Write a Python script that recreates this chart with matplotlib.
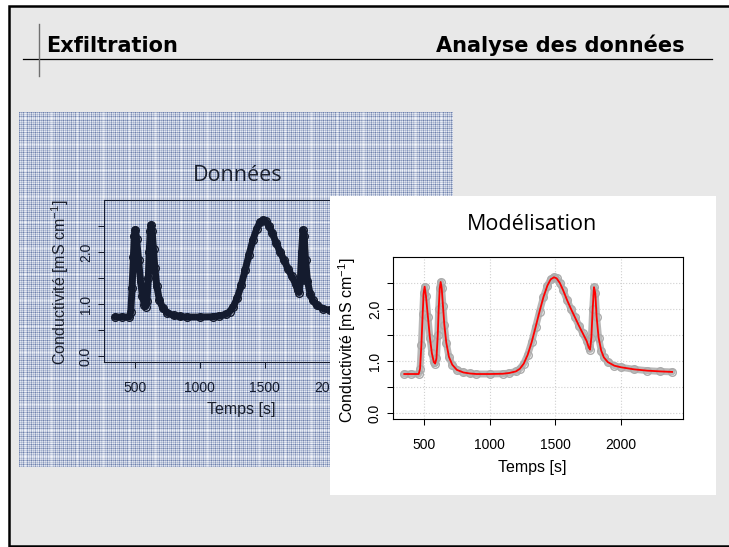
import numpy as np
import matplotlib
matplotlib.use("Agg")
import matplotlib.pyplot as plt
from matplotlib.patches import Rectangle
from matplotlib.lines import Line2D

W, H = 729, 547

# conductivity time series (same curve in both panels)
time_s = [350, 400, 460, 470, 480, 490, 497, 505, 515, 530, 545, 560, 575, 585,
          595, 605, 612, 620, 627, 635, 645, 655, 670, 690, 715, 750, 800, 850,
          900, 1000, 1100, 1150, 1200, 1230, 1260, 1290, 1320, 1350, 1380, 1410,
          1440, 1465, 1490, 1510, 1535, 1560, 1590, 1620, 1650, 1680, 1710, 1740,
          1755, 1765, 1775, 1785, 1795, 1805, 1815, 1830, 1850, 1870, 1900, 1950,
          2000, 2100, 2200, 2300, 2390]
cond_obs = [0.75, 0.75, 0.75, 0.85, 1.30, 1.90, 2.30, 2.43, 2.25, 1.85, 1.45, 1.15,
            0.98, 0.95, 1.05, 1.50, 2.00, 2.40, 2.52, 2.40, 2.05, 1.70, 1.35, 1.08,
            0.93, 0.83, 0.78, 0.76, 0.75, 0.75, 0.755, 0.77, 0.80, 0.85, 0.95, 1.12,
            1.36, 1.65, 1.95, 2.23, 2.45, 2.57, 2.61, 2.59, 2.50, 2.36, 2.17, 2.00,
            1.84, 1.68, 1.53, 1.38, 1.26, 1.22, 1.45, 2.00, 2.42, 2.30, 1.85, 1.45,
            1.20, 1.07, 0.98, 0.91, 0.88, 0.84, 0.815, 0.80, 0.79]
cond_model = cond_obs

xticks = [500, 1000, 1500, 2000]
yticks_major = [0.0, 1.0, 2.0]
yticks_minor = [0.5, 1.5, 2.5]
xlim = (264, 2473)
ylim = (-0.115, 3.0)

ylab = "Conductivité [mS cm$^{\\mathregular{-1}}$]"


def rect(x0, y0, x1, y1):
    return [x0 / W, 1 - y1 / H, (x1 - x0) / W, (y1 - y0) / H]


def fx(x):
    return x / W


def fy(y):
    return 1 - y / H


def style_axes(ax, col):
    ax.set_xlim(*xlim)
    ax.set_ylim(*ylim)
    ax.set_xticks(xticks)
    ax.set_xticklabels([str(v) for v in xticks])
    ax.set_yticks(yticks_major)
    ax.set_yticklabels(["%.1f" % v for v in yticks_major], rotation=90, va="center")
    ax.set_yticks(yticks_minor, minor=True)
    ax.tick_params(axis="both", which="both", length=4.5, width=0.75, colors=col,
                   labelsize=10)
    ax.tick_params(axis="x", pad=9)
    ax.tick_params(axis="y", pad=3.5)
    for lab in ax.get_xticklabels() + ax.get_yticklabels():
        lab.set_family("Liberation Sans")
    for s in ax.spines.values():
        s.set_color(col)
        s.set_linewidth(0.8)


fig = plt.figure(figsize=(W / 100, H / 100), dpi=100)
fig.patch.set_facecolor("white")

# slide background and frame (right edge runs off the picture)
fig.add_artist(Rectangle((fx(8.5), fy(546)), fx(760) - fx(8.5), fy(6) - fy(546),
                         transform=fig.transFigure, facecolor="#e8e8e8",
                         edgecolor="black", lw=1.8, zorder=-5, clip_on=False))

fig.text(fx(46), fy(52), "Exfiltration", family="DejaVu Sans", fontweight="bold",
         fontsize=15, va="baseline", ha="left")
fig.text(fx(685), fy(52), "Analyse des données", family="DejaVu Sans",
         fontweight="bold", fontsize=15, va="baseline", ha="right")
fig.add_artist(Line2D([fx(23), fx(712)], [fy(59), fy(59)], transform=fig.transFigure,
                      color="black", lw=0.9))
fig.add_artist(Line2D([fx(39), fx(39)], [fy(24), fy(76)], transform=fig.transFigure,
                      color="#707070", lw=1.0))

# blue plaid texture behind the first plot (decoration only)
bx0, by0, bx1, by1 = 19, 112, 453, 467
hatch_ax = fig.add_axes(rect(bx0, by0, bx1, by1), zorder=0)
hatch_ax.set_axis_off()
nx, ny = bx1 - bx0, by1 - by0
base = np.array([0.8, 0.1, 0.45, 0.15])
cols = base[np.arange(nx) % 4]
cols[np.arange(nx) % 13 == 6] = 0.0
rows = base[np.arange(ny) % 4]
rows[np.arange(ny) % 13 == 6] = 0.0
d = 0.5 * (rows[:, None] + cols[None, :])
light = np.array([0.95, 0.96, 0.98])
dark = np.array([0.30, 0.39, 0.60])
img = light[None, None, :] * (1 - d[..., None]) + dark[None, None, :] * d[..., None]
hatch_ax.imshow(img, interpolation="nearest", aspect="auto")

# "Données" plot
navy = "#141b2e"
ax1 = fig.add_axes(rect(104, 200, 391, 362), zorder=1)
ax1.patch.set_alpha(0)
ax1.plot(time_s, cond_obs, "-", color=navy, lw=5.0, solid_capstyle="round")
ax1.plot(time_s, cond_obs, "o", mfc="none", mec=navy, ms=5.5, mew=1.0)
style_axes(ax1, navy)
ax1.text(0.467, 1.154, "Données", transform=ax1.transAxes, ha="center", va="center",
         family="Open Sans", fontsize=15.5, color="#1a1f2c")
ax1.set_xlabel("Temps [s]", family="Liberation Sans", fontsize=11.5, color="#1a1f2c")
ax1.xaxis.set_label_coords(0.477, -0.296)
ax1.xaxis.label.set_va("center")
ax1.set_ylabel(ylab, family="Liberation Sans", fontsize=11.5, color="#1a1f2c")
ax1.yaxis.set_label_coords(-0.153, 0.494)
ax1.yaxis.label.set_va("center")

# white panel with the model plot
panel = fig.add_axes(rect(330, 196, 716, 495), zorder=2)
panel.set_axis_off()
panel.add_patch(Rectangle((0, 0), 1, 1, transform=panel.transAxes,
                          facecolor="white", edgecolor="none"))

ax2 = fig.add_axes(rect(393, 257, 683, 419), zorder=3)
ax2.set_facecolor("white")
for v in xticks:
    ax2.axvline(v, color="#d0d0d0", ls=":", lw=0.8, zorder=0)
for v in yticks_major + yticks_minor:
    ax2.axhline(v, color="#d0d0d0", ls=":", lw=0.8, zorder=0)
ax2.plot(time_s, cond_obs, "-", color="#b8b8b8", lw=5.0, solid_capstyle="round")
ax2.plot(time_s, cond_obs, "o", mfc="none", mec="#acacac", ms=5.5, mew=1.0)
ax2.plot(time_s, cond_model, "-", color="#ff0000", lw=1.3)
style_axes(ax2, "black")
ax2.text(0.479, 1.198, "Modélisation", transform=ax2.transAxes, ha="center",
         va="center", family="Open Sans", fontsize=15.5)
ax2.set_xlabel("Temps [s]", family="Liberation Sans", fontsize=11.5)
ax2.xaxis.set_label_coords(0.479, -0.302)
ax2.xaxis.label.set_va("center")
ax2.set_ylabel(ylab, family="Liberation Sans", fontsize=11.5)
ax2.yaxis.set_label_coords(-0.159, 0.488)
ax2.yaxis.label.set_va("center")

fig.savefig("out.png", dpi=100, facecolor=fig.get_facecolor())
